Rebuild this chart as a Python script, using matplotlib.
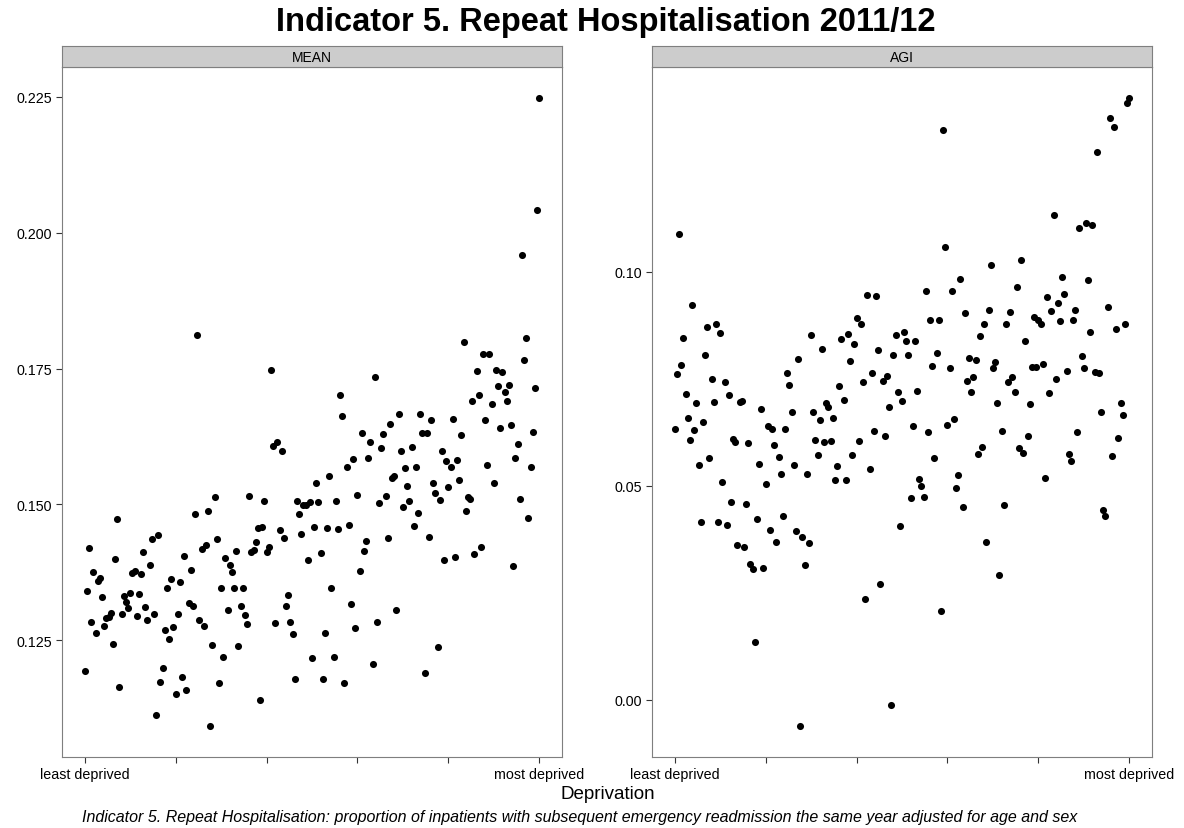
import numpy as np
import matplotlib
matplotlib.use("Agg")
import matplotlib.pyplot as plt
from matplotlib import font_manager

# values, ordered from least to most deprived
mean_vals = [
    0.1194, 0.1340, 0.1420, 0.1283, 0.1375, 0.1264, 0.1360, 0.1364, 0.1330, 0.1277,
    0.1291, 0.1293, 0.1301, 0.1244, 0.1399, 0.1474, 0.1164, 0.1298, 0.1331, 0.1320,
    0.1309, 0.1337, 0.1374, 0.1377, 0.1294, 0.1335, 0.1372, 0.1412, 0.1312, 0.1287,
    0.1388, 0.1437, 0.1299, 0.1112, 0.1444, 0.1174, 0.1199, 0.1269, 0.1347, 0.1253,
    0.1363, 0.1275, 0.1152, 0.1299, 0.1358, 0.1183, 0.1406, 0.1159, 0.1319, 0.1379,
    0.1314, 0.1482, 0.1812, 0.1288, 0.1418, 0.1277, 0.1425, 0.1488, 0.1093, 0.1242,
    0.1514, 0.1437, 0.1172, 0.1347, 0.1220, 0.1402, 0.1305, 0.1388, 0.1375, 0.1347,
    0.1414, 0.1239, 0.1314, 0.1347, 0.1296, 0.1280, 0.1515, 0.1412, 0.1417,
    0.1431, 0.1456, 0.1140, 0.1458, 0.1506, 0.1412, 0.1421, 0.1747, 0.1607, 0.1282,
    0.1614, 0.1453, 0.1598, 0.1439, 0.1314, 0.1333, 0.1283, 0.1261, 0.1179, 0.1506,
    0.1482, 0.1445, 0.1498, 0.1499, 0.1398, 0.1504, 0.1217, 0.1459, 0.1540, 0.1504,
    0.1410, 0.1179, 0.1264, 0.1456, 0.1553, 0.1347, 0.1220, 0.1506, 0.1455, 0.1702,
    0.1663, 0.1171, 0.1569, 0.1463, 0.1317, 0.1583, 0.1272,
    0.1517, 0.1377, 0.1631, 0.1415, 0.1433, 0.1586, 0.1614, 0.1206, 0.1734, 0.1284,
    0.1503, 0.1603, 0.1629, 0.1515, 0.1439, 0.1648, 0.1548, 0.1553, 0.1306, 0.1666,
    0.1598, 0.1495, 0.1567, 0.1533, 0.1506, 0.1606, 0.1461, 0.1569, 0.1485, 0.1666,
    0.1631, 0.1190, 0.1631, 0.1440, 0.1656, 0.1540, 0.1521, 0.1237, 0.1509, 0.1598,
    0.1398, 0.1580, 0.1532, 0.1569, 0.1658, 0.1404, 0.1582,
    0.1544, 0.1628, 0.1798, 0.1487, 0.1514, 0.1510, 0.1691, 0.1409, 0.1745, 0.1702,
    0.1421, 0.1777, 0.1655, 0.1572, 0.1777, 0.1685, 0.1539, 0.1748, 0.1717, 0.1640,
    0.1743, 0.1707, 0.1690, 0.1720, 0.1647, 0.1387, 0.1586, 0.1612, 0.1510, 0.1958,
    0.1766, 0.1807, 0.1475, 0.1569, 0.1634, 0.1714, 0.2042, 0.2247,
]

agi_vals = [
    0.0633, 0.0761, 0.1089, 0.0781, 0.0845, 0.0714, 0.0659, 0.0607, 0.0922, 0.0631,
    0.0694, 0.0547, 0.0415, 0.0649, 0.0806, 0.0871, 0.0565, 0.0748, 0.0695, 0.0877,
    0.0415, 0.0857, 0.0508, 0.0742, 0.0407, 0.0712, 0.0462, 0.0609, 0.0601, 0.0361,
    0.0695, 0.0698, 0.0357, 0.0456, 0.0599, 0.0317, 0.0304, 0.0135, 0.0423, 0.0550,
    0.0679,
    0.0308, 0.0504, 0.0640, 0.0397, 0.0633, 0.0595, 0.0369, 0.0567, 0.0528, 0.0429,
    0.0633, 0.0762, 0.0734, 0.0671, 0.0548, 0.0393, 0.0796, -0.0061, 0.0379, 0.0315,
    0.0528, 0.0365, 0.0851, 0.0671, 0.0607, 0.0571, 0.0653, 0.0819, 0.0601, 0.0694,
    0.0683, 0.0605, 0.0657, 0.0514, 0.0546, 0.0732, 0.0843, 0.0700, 0.0514, 0.0855,
    0.0792, 0.0571, 0.0831, 0.0892, 0.0604, 0.0877, 0.0741, 0.0236, 0.0946, 0.0539,
    0.0764, 0.0627, 0.0942, 0.0818, 0.0270, 0.0744, 0.0615, 0.0756, 0.0683, -0.0012,
    0.0806, 0.0851, 0.0718, 0.0405, 0.0698, 0.0858, 0.0839, 0.0805, 0.0472, 0.0639,
    0.0839, 0.0720, 0.0516, 0.0500, 0.0474, 0.0954, 0.0625, 0.0886, 0.0780, 0.0565,
    0.0810, 0.0886, 0.0208, 0.1331, 0.1058, 0.0641, 0.0774,
    0.0954, 0.0655, 0.0494, 0.0525, 0.0983, 0.0450, 0.0904, 0.0744, 0.0798, 0.0718,
    0.0754, 0.0794, 0.0575, 0.0849, 0.0591, 0.0877, 0.0369, 0.0910, 0.1015, 0.0774,
    0.0790, 0.0694, 0.0290, 0.0627, 0.0454, 0.0877, 0.0742, 0.0906, 0.0754, 0.0718,
    0.0963, 0.0587, 0.1027, 0.0577, 0.0839, 0.0615, 0.0690, 0.0778, 0.0895, 0.0778,
    0.0887, 0.0877, 0.0784, 0.0518, 0.0941, 0.0716,
    0.0908, 0.1132, 0.0749, 0.0926, 0.0885, 0.0988, 0.0947, 0.0768, 0.0575, 0.0557,
    0.0887, 0.0911, 0.0626, 0.1103, 0.0802, 0.0776, 0.1113, 0.0980, 0.0858, 0.1108,
    0.0765, 0.1279, 0.0763, 0.0671, 0.0442, 0.0428, 0.0918, 0.1358, 0.0569, 0.1338,
    0.0865, 0.0611, 0.0692, 0.0666, 0.0877, 0.1395, 0.1405,
]

panel_names = ["MEAN", "AGI"]
mean_ticks = [0.125, 0.150, 0.175, 0.200, 0.225]
agi_ticks = [0.00, 0.05, 0.10]
x_labels = ["least deprived", "", "", "", "", "most deprived"]

title = "Indicator 5. Repeat Hospitalisation 2011/12"
x_title = "Deprivation"
caption = ("Indicator 5. Repeat Hospitalisation: proportion of inpatients with subsequent "
           "emergency readmission the same year adjusted for age and sex")

# narrow font if there is one, like the squeezed look of the original
family = "Liberation Sans"
try:
    font_manager.findfont("Liberation Sans Narrow", fallback_to_default=False)
    family = "Liberation Sans Narrow"
except Exception:
    pass
plt.rcParams["font.family"] = [family, "DejaVu Sans"]

W, H = 1184, 829
fig = plt.figure(figsize=(W / 100, H / 100), dpi=100)
fig.patch.set_facecolor("white")


def px_axes(x0, y0, x1, y1):
    # pixel box (top-left origin) -> figure axes
    return fig.add_axes([x0 / W, 1 - y1 / H, (x1 - x0) / W, (y1 - y0) / H])


def expand(vals, frac=0.05):
    lo, hi = min(vals), max(vals)
    pad = (hi - lo) * frac
    return lo - pad, hi + pad


panels = [
    (mean_vals, mean_ticks, "{:.3f}", 62),
    (agi_vals, agi_ticks, "{:.2f}", 652),
]

for (vals, yt, fmt, left), name in zip(panels, panel_names):
    ax = px_axes(left, 68, left + 500, 758)
    x = np.arange(1, len(vals) + 1)
    ax.scatter(x, vals, s=26, color="black", linewidths=0, zorder=3)
    ax.set_xlim(expand(x))
    ax.set_ylim(expand(vals))
    ax.set_xticks(np.linspace(1, len(vals), 6))
    ax.set_xticklabels(x_labels)
    ax.set_yticks(yt)
    ax.set_yticklabels([fmt.format(v) for v in yt])
    ax.tick_params(length=4, width=0.8, color="#333333", labelsize=10.3,
                   labelcolor="black", pad=3)
    for sp in ax.spines.values():
        sp.set_color("#7f7f7f")
        sp.set_linewidth(0.8)

    strip = px_axes(left, 47, left + 500, 68)
    strip.set_facecolor("#cccccc")
    strip.set_xticks([])
    strip.set_yticks([])
    for sp in strip.spines.values():
        sp.set_color("#7f7f7f")
        sp.set_linewidth(0.8)
    strip.text(0.5, 0.5, name, ha="center", va="center", fontsize=10,
               transform=strip.transAxes)

fig.text(606 / W, 1 - 23 / H, title, ha="center", va="center",
         fontsize=23.5, fontweight="bold")
fig.text(608 / W, 1 - 795 / H, x_title, ha="center", va="center", fontsize=13.5)
fig.text(580 / W, 1 - 818 / H, caption, ha="center", va="center",
         fontsize=11.5, style="italic")

fig.savefig("out.png", dpi=100, facecolor="white")
